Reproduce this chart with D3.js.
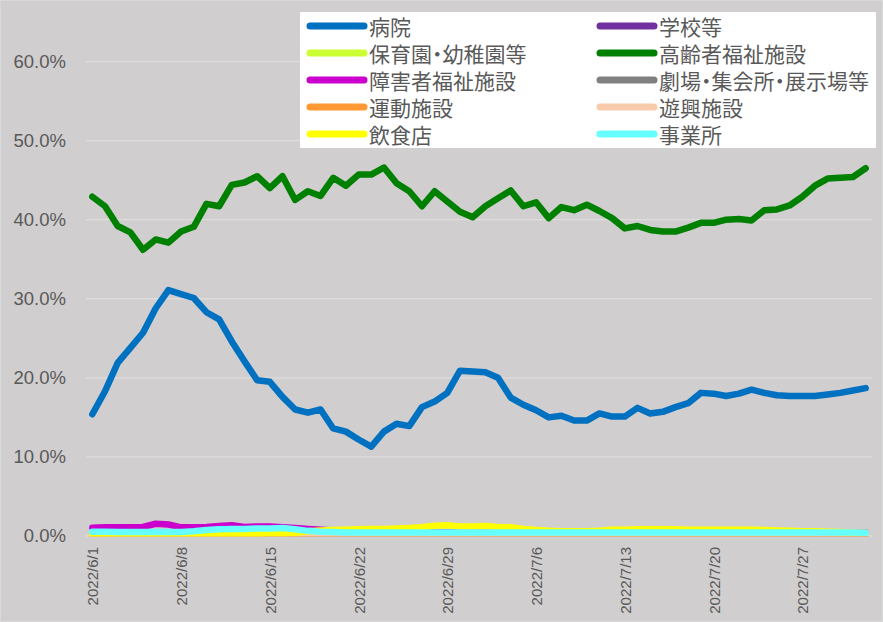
<!DOCTYPE html>
<html>
<head>
<meta charset="utf-8">
<script src="https://cdn.jsdelivr.net/npm/d3@7"></script>
<style>
  html, body { margin: 0; padding: 0; background: #d0cece; }
  svg { display: block; }
  .legend-label { font-feature-settings: "palt"; }
</style>
</head>
<body>
<svg id="chart" width="883" height="622"></svg>
<script>
// Daily share by facility type, 2022/6/1 – 2022/8/1 (percent)
const startDate = new Date(2022, 5, 1);
const endDate = new Date(2022, 7, 2);
const dates = d3.timeDay.range(startDate, endDate);

const seriesNames = ["病院", "学校等", "保育園・幼稚園等", "高齢者福祉施設", "障害者福祉施設",
  "劇場・集会所・展示場等", "運動施設", "遊興施設", "飲食店", "事業所"];
const seriesColors = ["#0070c0", "#7030a0", "#ccff33", "#008000", "#cc00cc",
  "#808080", "#ff9933", "#f8cbad", "#ffff00", "#66ffff"];

const hospital = [15.4, 18.3, 21.9, 23.8, 25.7, 28.8, 31.1, 30.6, 30.1, 28.3,
  27.4, 24.6, 22.1, 19.7, 19.5, 17.6, 16.0, 15.6, 16.0, 13.6,
  13.2, 12.2, 11.3, 13.2, 14.2, 13.9, 16.3, 17.0, 18.1, 20.9,
  20.8, 20.7, 20.0, 17.5, 16.6, 15.9, 15.0, 15.2, 14.6, 14.6,
  15.5, 15.1, 15.1, 16.2, 15.5, 15.7, 16.3, 16.8, 18.1, 18.0,
  17.7, 18.0, 18.5, 18.1, 17.8, 17.7, 17.7, 17.7, 17.9, 18.1,
  18.4, 18.7];
const school = [0.1, 0.1, 0.1, 0.1, 0.1, 0.1, 0.1, 0.1, 0.1, 0.1,
  0.1, 0.1, 0.1, 0.1, 0.1, 0.1, 0.1, 0.1, 0.1, 0.1,
  0.1, 0.1, 0.1, 0.1, 0.1, 0.1, 0.1, 0.1, 0.1, 0.1,
  0.1, 0.1, 0.1, 0.1, 0.1, 0.1, 0.1, 0.1, 0.1, 0.1,
  0.1, 0.1, 0.1, 0.1, 0.1, 0.1, 0.1, 0.1, 0.1, 0.1,
  0.1, 0.1, 0.1, 0.1, 0.1, 0.1, 0.1, 0.1, 0.1, 0.1,
  0.1, 0.1];
const nursery = [0.15, 0.15, 0.15, 0.15, 0.15, 0.15, 0.15, 0.15, 0.15, 0.15,
  0.15, 0.15, 0.15, 0.15, 0.15, 0.15, 0.15, 0.15, 0.15, 0.15,
  0.15, 0.15, 0.15, 0.15, 0.15, 0.15, 0.15, 0.15, 0.15, 0.15,
  0.15, 0.15, 0.15, 0.15, 0.15, 0.15, 0.15, 0.15, 0.15, 0.15,
  0.15, 0.15, 0.15, 0.15, 0.15, 0.15, 0.15, 0.15, 0.15, 0.15,
  0.15, 0.15, 0.15, 0.15, 0.15, 0.15, 0.15, 0.15, 0.15, 0.15,
  0.15, 0.15];
const elderly = [42.9, 41.7, 39.2, 38.4, 36.2, 37.5, 37.1, 38.5, 39.1, 42.0,
  41.7, 44.4, 44.7, 45.5, 44.0, 45.5, 42.5, 43.6, 43.0, 45.3,
  44.3, 45.7, 45.7, 46.6, 44.6, 43.6, 41.7, 43.6, 42.3, 41.0,
  40.3, 41.7, 42.7, 43.7, 41.7, 42.2, 40.2, 41.6, 41.2, 41.9,
  41.1, 40.2, 38.9, 39.2, 38.7, 38.5, 38.5, 39.0, 39.6, 39.6,
  40.0, 40.1, 39.9, 41.2, 41.3, 41.8, 42.9, 44.3, 45.2, 45.3,
  45.4, 46.5];
const disability = [1.05, 1.1, 1.1, 1.1, 1.15, 1.55, 1.45, 1.1, 1.1, 1.15,
  1.25, 1.35, 1.15, 1.2, 1.2, 1.1, 1.0, 0.9, 0.8, 0.7,
  0.6, 0.5, 0.45, 0.45, 0.45, 0.45, 0.45, 0.45, 0.45, 0.45,
  0.45, 0.45, 0.45, 0.45, 0.45, 0.45, 0.45, 0.45, 0.45, 0.45,
  0.45, 0.45, 0.45, 0.45, 0.45, 0.45, 0.45, 0.45, 0.45, 0.45,
  0.45, 0.45, 0.45, 0.45, 0.45, 0.45, 0.45, 0.45, 0.45, 0.45,
  0.45, 0.45];
const theater = [0.1, 0.1, 0.1, 0.1, 0.1, 0.1, 0.1, 0.1, 0.1, 0.1,
  0.1, 0.1, 0.1, 0.1, 0.1, 0.1, 0.1, 0.1, 0.1, 0.1,
  0.1, 0.1, 0.1, 0.1, 0.1, 0.1, 0.1, 0.1, 0.1, 0.1,
  0.1, 0.1, 0.1, 0.1, 0.1, 0.1, 0.1, 0.1, 0.1, 0.1,
  0.1, 0.1, 0.1, 0.1, 0.1, 0.1, 0.1, 0.1, 0.1, 0.1,
  0.1, 0.1, 0.1, 0.1, 0.1, 0.1, 0.1, 0.1, 0.1, 0.1,
  0.1, 0.1];
const sports = [0.1, 0.1, 0.1, 0.1, 0.1, 0.1, 0.1, 0.1, 0.1, 0.1,
  0.1, 0.1, 0.1, 0.1, 0.1, 0.1, 0.1, 0.1, 0.1, 0.1,
  0.1, 0.1, 0.1, 0.1, 0.1, 0.1, 0.1, 0.1, 0.1, 0.1,
  0.1, 0.1, 0.1, 0.1, 0.1, 0.1, 0.1, 0.1, 0.1, 0.1,
  0.1, 0.1, 0.1, 0.1, 0.1, 0.1, 0.1, 0.1, 0.1, 0.1,
  0.1, 0.1, 0.1, 0.1, 0.1, 0.1, 0.1, 0.1, 0.1, 0.1,
  0.1, 0.1];
const amusement = [0.05, 0.05, 0.05, 0.05, 0.05, 0.05, 0.05, 0.05, 0.05, 0.05,
  0.05, 0.05, 0.05, 0.05, 0.05, 0.05, 0.05, 0.05, 0.05, 0.05,
  0.05, 0.05, 0.05, 0.05, 0.05, 0.05, 0.05, 0.05, 0.05, 0.05,
  0.05, 0.05, 0.05, 0.05, 0.05, 0.05, 0.05, 0.05, 0.05, 0.05,
  0.05, 0.05, 0.05, 0.05, 0.05, 0.05, 0.05, 0.05, 0.05, 0.05,
  0.05, 0.05, 0.05, 0.05, 0.05, 0.05, 0.05, 0.05, 0.05, 0.05,
  0.05, 0.05];
const restaurant = [0.05, 0.05, 0.05, 0.05, 0.05, 0.05, 0.05, 0.1, 0.1, 0.15,
  0.2, 0.25, 0.3, 0.3, 0.35, 0.35, 0.4, 0.6, 0.7, 0.75,
  0.8, 0.85, 0.9, 0.9, 0.95, 1.0, 1.1, 1.3, 1.35, 1.2,
  1.2, 1.25, 1.15, 1.1, 0.9, 0.75, 0.65, 0.6, 0.6, 0.6,
  0.65, 0.8, 0.8, 0.85, 0.85, 0.85, 0.85, 0.8, 0.8, 0.8,
  0.8, 0.8, 0.8, 0.75, 0.7, 0.65, 0.6, 0.6, 0.55, 0.5,
  0.45, 0.4];
const office = [0.55, 0.55, 0.5, 0.5, 0.5, 0.5, 0.5, 0.5, 0.6, 0.75,
  0.85, 0.9, 0.9, 0.95, 0.95, 1.0, 0.85, 0.65, 0.55, 0.5,
  0.45, 0.45, 0.45, 0.45, 0.45, 0.45, 0.45, 0.45, 0.45, 0.45,
  0.45, 0.45, 0.45, 0.45, 0.45, 0.45, 0.45, 0.45, 0.45, 0.45,
  0.45, 0.45, 0.45, 0.45, 0.45, 0.45, 0.45, 0.45, 0.45, 0.45,
  0.45, 0.45, 0.45, 0.45, 0.45, 0.45, 0.45, 0.45, 0.45, 0.45,
  0.45, 0.4];

const yTicks = [0, 0.1, 0.2, 0.3, 0.4, 0.5, 0.6];
const xTickIndexes = [0, 7, 14, 21, 28, 35, 42, 49, 56];

const seriesValues = [hospital, school, nursery, elderly, disability,
  theater, sports, amusement, restaurant, office];
const series = seriesNames.map((name, k) => ({
  name, color: seriesColors[k], values: seriesValues[k].map(v => v / 100)
}));

// ---- layout ----
const W = 883, H = 622;
const plot = { left: 86, right: 872, top: 22, bottom: 536 };
const textColor = "#595959";
const numFont = "'Liberation Sans', Arial, sans-serif";
const jpFont = "'Noto Sans CJK JP', 'Noto Sans', sans-serif";

const svg = d3.select("#chart");

svg.append("rect")
  .attr("x", 0.5).attr("y", 0.5).attr("width", W - 1).attr("height", H - 1)
  .attr("fill", "#d0cece").attr("stroke", "#d9d9d9");

const x = d3.scalePoint()
  .domain(d3.range(dates.length))
  .range([plot.left, plot.right])
  .padding(0.5);

const y = d3.scaleLinear()
  .domain([0, 0.65])
  .range([plot.bottom, plot.top]);

// horizontal gridlines
svg.append("g")
  .selectAll("line")
  .data(yTicks)
  .join("line")
  .attr("x1", plot.left).attr("x2", plot.right)
  .attr("y1", d => y(d)).attr("y2", d => y(d))
  .attr("stroke", "#dedcdc").attr("stroke-width", 1.3);

// y axis labels
const yAxis = svg.append("g")
  .attr("transform", `translate(${plot.left},0)`)
  .call(d3.axisLeft(y).tickValues(yTicks).tickFormat(d3.format(".1%")).tickSize(0).tickPadding(20));
yAxis.select(".domain").remove();
yAxis.selectAll("text")
  .attr("fill", textColor)
  .attr("font-family", numFont)
  .attr("font-size", "18.5px");

// x axis labels (rotated dates)
const fmt = d3.timeFormat("%Y/%-m/%-d");
const xAxis = svg.append("g")
  .attr("transform", `translate(0,${plot.bottom})`)
  .call(d3.axisBottom(x).tickValues(xTickIndexes).tickFormat(i => fmt(dates[i])).tickSize(0));
xAxis.select(".domain").remove();
xAxis.selectAll("text")
  .attr("x", 0).attr("y", 0).attr("dy", null)
  .attr("text-anchor", "end")
  .attr("dominant-baseline", "central")
  .attr("transform", "translate(0,11) rotate(-90)")
  .attr("fill", textColor)
  .attr("font-family", numFont)
  .attr("font-size", "15px");

// series lines, clipped to the plot area
svg.append("clipPath").attr("id", "plot-clip")
  .append("rect")
  .attr("x", 0).attr("y", plot.top - 20)
  .attr("width", W).attr("height", plot.bottom - plot.top + 20.5);

const line = d3.line()
  .x((d, i) => x(i))
  .y(d => y(d));

svg.append("g")
  .attr("clip-path", "url(#plot-clip)")
  .selectAll("path")
  .data(series)
  .join("path")
  .attr("d", s => line(s.values))
  .attr("fill", "none")
  .attr("stroke", s => s.color)
  .attr("stroke-width", 6.5)
  .attr("stroke-linecap", "round")
  .attr("stroke-linejoin", "round");

// legend
const legend = svg.append("g");
legend.append("rect")
  .attr("x", 300).attr("y", 12).attr("width", 576).attr("height", 136)
  .attr("fill", "#ffffff");

const colX = [310, 600];
const rowY0 = 26, rowStep = 27;
const items = legend.selectAll("g.item")
  .data(series)
  .join("g")
  .attr("class", "item")
  .attr("transform", (s, k) => `translate(${colX[k % 2]},${rowY0 + Math.floor(k / 2) * rowStep})`);
items.append("line")
  .attr("x1", 0).attr("x2", 54).attr("y1", 0).attr("y2", 0)
  .attr("stroke", s => s.color)
  .attr("stroke-width", 7)
  .attr("stroke-linecap", "round");
items.append("text")
  .attr("class", "legend-label")
  .attr("x", 59).attr("y", 0)
  .attr("dominant-baseline", "central")
  .attr("fill", textColor)
  .attr("font-family", jpFont)
  .attr("font-size", "21px")
  .text(s => s.name);
</script>
</body>
</html>
